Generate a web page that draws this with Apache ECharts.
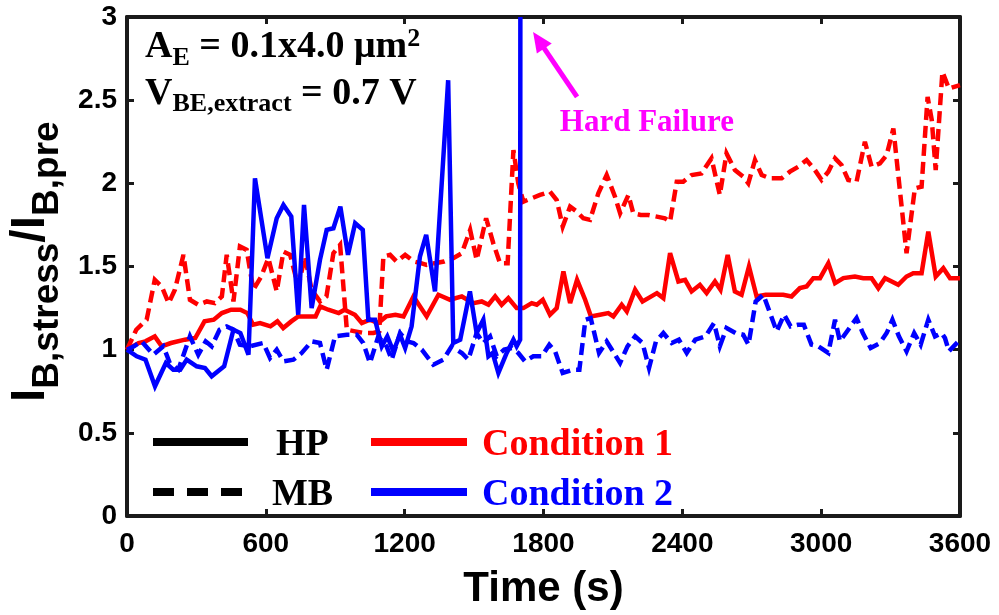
<!DOCTYPE html>
<html>
<head>
<meta charset="utf-8">
<script src="https://cdn.jsdelivr.net/npm/echarts@6.0.0/dist/echarts.min.js"></script>
<style>
html, body { margin: 0; padding: 0; background: #fff; }
#main { width: 999px; height: 615px; }
</style>
</head>
<body>
<div id="main"></div>
<script>
// values: [time (s), I_B,stress / I_B,pre]
var xTicks = [0, 600, 1200, 1800, 2400, 3000, 3600];
var yTicks = [0, 0.5, 1, 1.5, 2, 2.5, 3];

var cond1HP = [[0,1.00],[50,1.04],[80,1.05],[120,1.08],[150,1.02],[190,1.04],[250,1.06],[295,1.07],[335,1.17],[375,1.18],[410,1.22],[450,1.24],[490,1.24],[520,1.22],[545,1.15],[575,1.16],[620,1.14],[650,1.17],[675,1.13],[710,1.17],[740,1.20],[780,1.20],[815,1.20],[835,1.26],[870,1.24],[915,1.22],[940,1.24],[985,1.21],[1015,1.16],[1050,1.18],[1085,1.16],[1120,1.20],[1160,1.21],[1195,1.20],[1238,1.32],[1295,1.20],[1346,1.33],[1396,1.30],[1447,1.32],[1497,1.28],[1533,1.29],[1562,1.27],[1591,1.32],[1619,1.27],[1648,1.31],[1684,1.25],[1713,1.25],[1749,1.28],[1771,1.27],[1797,1.30],[1828,1.21],[1857,1.25],[1886,1.47],[1915,1.28],[1945,1.42],[1980,1.30],[2005,1.20],[2044,1.21],[2080,1.22],[2102,1.20],[2138,1.27],[2160,1.23],[2196,1.36],[2228,1.29],[2253,1.31],[2290,1.34],[2318,1.31],[2347,1.58],[2383,1.41],[2412,1.42],[2440,1.35],[2476,1.39],[2505,1.34],[2541,1.41],[2565,1.36],[2596,1.57],[2627,1.35],[2656,1.33],[2688,1.50],[2721,1.32],[2760,1.33],[2800,1.33],[2836,1.33],[2872,1.32],[2908,1.37],[2937,1.38],[2966,1.43],[2995,1.43],[3031,1.52],[3060,1.40],[3096,1.43],[3146,1.44],[3182,1.43],[3218,1.43],[3247,1.37],[3276,1.43],[3305,1.41],[3333,1.39],[3369,1.44],[3398,1.46],[3434,1.46],[3463,1.71],[3495,1.44],[3528,1.49],[3557,1.43],[3600,1.43]];

var cond1MB = [[0,1.00],[40,1.12],[85,1.18],[120,1.42],[150,1.38],[180,1.28],[207,1.36],[244,1.57],[272,1.30],[308,1.27],[345,1.29],[380,1.28],[410,1.32],[431,1.57],[460,1.29],[488,1.62],[517,1.60],[546,1.36],[580,1.44],[611,1.55],[647,1.35],[676,1.59],[705,1.57],[740,1.38],[769,1.56],[798,1.36],[834,1.29],[862,1.32],[892,1.58],[921,1.63],[950,1.12],[986,1.11],[1025,1.10],[1065,1.10],[1090,1.11],[1108,1.56],[1137,1.57],[1165,1.53],[1202,1.57],[1240,1.53],[1270,1.52],[1295,1.51],[1330,1.52],[1370,1.53],[1410,1.55],[1447,1.58],[1483,1.72],[1511,1.54],[1552,1.79],[1583,1.64],[1612,1.52],[1645,1.52],[1670,2.20],[1691,2.00],[1713,1.89],[1749,1.91],[1785,1.93],[1828,1.95],[1857,1.90],[1883,1.74],[1915,1.86],[1944,1.83],[1972,1.79],[2001,1.78],[2037,1.94],[2073,2.05],[2109,1.92],[2131,1.82],[2167,1.93],[2188,1.82],[2220,1.81],[2253,1.81],[2290,1.80],[2325,1.79],[2347,1.77],[2376,2.01],[2404,2.01],[2440,2.05],[2483,2.06],[2526,2.15],[2562,1.93],[2591,2.18],[2627,2.08],[2663,2.04],[2685,2.00],[2714,2.14],[2743,2.05],[2779,2.03],[2829,2.03],[2865,2.07],[2901,2.10],[2937,2.14],[2973,2.08],[3002,2.02],[3031,2.07],[3060,2.15],[3088,2.11],[3117,2.02],[3153,2.01],[3189,2.25],[3218,2.10],[3254,2.12],[3283,2.17],[3312,2.33],[3369,1.58],[3405,1.97],[3434,1.98],[3460,2.52],[3478,2.38],[3495,2.08],[3524,2.67],[3552,2.57],[3575,2.58],[3600,2.59]];

// condition 2 HP stops at the hard failure (~1700 s)
var cond2HP = [[0,1.00],[42,0.96],[80,0.94],[121,0.78],[168,0.92],[200,0.88],[230,0.88],[258,0.94],[301,0.90],[337,0.89],[366,0.84],[420,0.90],[460,1.12],[490,1.10],[525,0.97],[553,2.03],[607,1.55],[647,1.79],[676,1.87],[710,1.80],[740,1.21],[765,1.87],[798,1.25],[834,1.54],[863,1.72],[892,1.73],[922,1.86],[955,1.57],[986,1.76],[1019,1.72],[1043,1.18],[1072,1.18],[1101,1.02],[1125,1.08],[1151,0.99],[1180,1.09],[1202,1.01],[1230,1.14],[1266,1.56],[1293,1.69],[1331,1.35],[1388,2.62],[1410,1.04],[1440,1.06],[1482,1.35],[1511,1.10],[1540,1.18],[1562,0.96],[1580,0.98],[1605,0.86],[1641,0.98],[1670,1.06],[1684,1.02],[1699,1.06],[1700,3.00]];

var cond2MB = [[0,1.00],[30,1.02],[63,1.05],[114,0.97],[157,1.02],[185,0.92],[222,0.88],[272,1.08],[308,0.97],[340,1.05],[366,1.02],[400,1.12],[431,1.14],[460,1.12],[488,1.03],[530,1.02],[589,1.04],[618,0.95],[647,1.00],[676,0.93],[719,0.94],[755,0.98],[798,1.05],[834,1.04],[863,0.88],[899,1.08],[950,1.09],[993,1.09],[1021,1.04],[1050,0.92],[1086,1.08],[1122,1.02],[1144,0.94],[1180,1.10],[1210,1.05],[1238,1.04],[1274,1.00],[1324,0.91],[1367,0.94],[1403,1.02],[1447,0.98],[1475,0.94],[1511,1.10],[1540,1.04],[1569,1.08],[1598,0.96],[1630,1.00],[1663,1.01],[1691,0.98],[1720,0.93],[1756,0.96],[1792,0.96],[1825,1.03],[1850,0.99],[1883,0.86],[1929,0.88],[1955,0.88],[1981,1.18],[2004,1.19],[2040,0.98],[2073,1.05],[2109,0.97],[2131,0.92],[2163,1.02],[2196,1.08],[2228,1.04],[2256,0.89],[2286,1.05],[2318,1.10],[2354,1.04],[2385,1.06],[2419,0.98],[2456,1.06],[2500,1.08],[2537,1.16],[2562,1.02],[2591,1.13],[2630,1.10],[2663,1.09],[2686,1.03],[2717,1.29],[2750,1.33],[2779,1.22],[2808,1.11],[2840,1.21],[2868,1.14],[2900,1.15],[2925,1.15],[2958,1.03],[2988,1.02],[3031,0.98],[3060,1.18],[3081,1.05],[3117,1.12],[3153,1.19],[3180,1.10],[3214,1.01],[3254,1.04],[3283,1.10],[3308,1.18],[3336,1.08],[3369,0.99],[3402,1.10],[3430,1.03],[3463,1.18],[3492,1.08],[3521,1.10],[3535,1.07],[3552,0.99],[3593,1.05]];

var legendKinds = ['HP', 'MB'];
var legendConds = ['Condition 1', 'Condition 2'];
var failureTime = 1700;

var SANS = '"Liberation Sans", Arial, Helvetica, sans-serif';
var SERIF = '"Liberation Serif", "Times New Roman", serif';
var RED = '#ff0000', BLUE = '#0000ff', MAGENTA = '#ff00ff', AXIS = '#1a1a1a';

var chart = echarts.init(document.getElementById('main'));

function frameAxis(pos, ticks, showLabel) {
    return {
        type: 'value',
        position: pos,
        min: ticks[0],
        max: ticks[ticks.length - 1],
        interval: ticks[1] - ticks[0],
        axisLine: { show: true, onZero: false, lineStyle: { color: AXIS, width: 4 } },
        axisTick: { show: true, inside: true, length: 7, lineStyle: { color: AXIS, width: 3 } },
        axisLabel: {
            show: showLabel, color: '#000', fontSize: 28, fontWeight: 'bold', fontFamily: SANS,
            formatter: function (v) { return String(v); }   // no thousands separator
        },
        splitLine: { show: false }
    };
}

var xBottom = frameAxis('bottom', xTicks, true);
xBottom.axisLabel.margin = 14;
xBottom.name = 'Time (s)';
xBottom.nameLocation = 'middle';
xBottom.nameGap = 52;
xBottom.nameTextStyle = { fontSize: 42, fontWeight: 'bold', color: '#000', fontFamily: SANS };

var yLeft = frameAxis('left', yTicks, true);
yLeft.axisLabel.margin = 10;

function lineSeries(name, data, color, dashed, z) {
    return {
        name: name,
        type: 'line',
        data: data,
        symbol: 'none',
        z: z,
        clip: true,
        animation: false,
        lineStyle: { color: color, width: 4.5, type: dashed ? [12, 6] : 'solid', join: 'miter', miterLimit: 4 }
    };
}

var option = {
    backgroundColor: '#fff',
    animation: false,
    grid: { left: 127, right: 39, top: 17, bottom: 98 },
    xAxis: [xBottom, frameAxis('top', xTicks, false)],
    yAxis: [yLeft, frameAxis('right', yTicks, false)],
    series: [
        lineSeries('Condition 1 MB', cond1MB, RED, true, 2),
        lineSeries('Condition 1 HP', cond1HP, RED, false, 3),
        lineSeries('Condition 2 MB', cond2MB, BLUE, true, 4),
        lineSeries('Condition 2 HP', cond2HP, BLUE, false, 5)
    ]
};
chart.setOption(option);

// text runs with sub/superscripts: [text, size, baseline shift]
var measureCtx = document.createElement('canvas').getContext('2d');
function textRun(parts, family, color) {
    var out = [], cx = 0;
    parts.forEach(function (p) {
        measureCtx.font = 'bold ' + p[1] + 'px ' + family;
        out.push({
            type: 'text', x: cx, y: p[2] - 0.34 * p[1],
            style: { text: p[0], fontSize: p[1], fontWeight: 'bold', fontFamily: family,
                     fill: color || '#000', align: 'left', verticalAlign: 'middle' }
        });
        cx += measureCtx.measureText(p[0]).width;
    });
    return out;
}

var graphics = [];
// y axis title, rotated
graphics.push({
    type: 'group', x: 47, y: 402, rotation: Math.PI / 2,
    children: textRun([['I', 48, 0], ['B,stress', 37, 13], ['/', 48, 0], ['I', 48, 0], ['B,pre', 37, 13]], SANS)
});
// device annotations
graphics.push({
    type: 'group', x: 145, y: 60,
    children: textRun([['A', 38, 0], ['E', 26, 7], [' = 0.1x4.0 \u03bcm', 38, 0], ['2', 26, -12]], SERIF)
});
graphics.push({
    type: 'group', x: 145, y: 107,
    children: textRun([['V', 38, 0], ['BE,extract', 26, 6], [' = 0.7 V', 38, 0]], SERIF)
});

// legend drawn by hand (line style key + colour key)
var legendRows = [442, 492];
legendKinds.forEach(function (k, i) {
    var y = legendRows[i];
    graphics.push({ type: 'line', shape: { x1: 153, y1: y, x2: 248, y2: y },
        style: { stroke: '#000', lineWidth: 8, lineDash: i === 1 ? [21, 13] : null } });
    graphics.push({ type: 'text', x: i === 0 ? 276 : 272, y: y + 3,
        style: { text: k, fontSize: 38, fontWeight: 'bold', fontFamily: SERIF, fill: '#000', align: 'left', verticalAlign: 'middle' } });
});
legendConds.forEach(function (c, i) {
    var y = legendRows[i];
    var col = i === 0 ? RED : BLUE;
    graphics.push({ type: 'line', shape: { x1: 371, y1: y, x2: 467, y2: y },
        style: { stroke: col, lineWidth: 8 } });
    graphics.push({ type: 'text', x: 482, y: y + 3,
        style: { text: c, fontSize: 38, fontWeight: 'bold', fontFamily: SERIF, fill: col, align: 'left', verticalAlign: 'middle' } });
});

// hard failure label + arrow
var tip = chart.convertToPixel({ xAxisIndex: 0, yAxisIndex: 0 }, [failureTime + 55, 2.91]);
var tail = chart.convertToPixel({ xAxisIndex: 0, yAxisIndex: 0 }, [failureTime + 245, 2.52]);
var lbl = chart.convertToPixel({ xAxisIndex: 0, yAxisIndex: 0 }, [failureTime + 547, 2.36]);
var dx = tip[0] - tail[0], dy = tip[1] - tail[1];
var len = Math.sqrt(dx * dx + dy * dy);
var ux = dx / len, uy = dy / len;
var headLen = 20, headW = 9;
var bx = tip[0] - ux * headLen, by = tip[1] - uy * headLen;
graphics.push({ type: 'line', shape: { x1: tail[0], y1: tail[1], x2: bx + ux * 2, y2: by + uy * 2 },
    style: { stroke: MAGENTA, lineWidth: 5 } });
graphics.push({ type: 'polygon', shape: { points: [tip, [bx - uy * headW, by + ux * headW], [bx + uy * headW, by - ux * headW]] },
    style: { fill: MAGENTA } });
graphics.push({ type: 'text', x: lbl[0], y: lbl[1],
    style: { text: 'Hard Failure', fontSize: 31, fontWeight: 'bold', fontFamily: SERIF, fill: MAGENTA, align: 'center', verticalAlign: 'middle' } });

chart.setOption({ graphic: graphics });
</script>
</body>
</html>
